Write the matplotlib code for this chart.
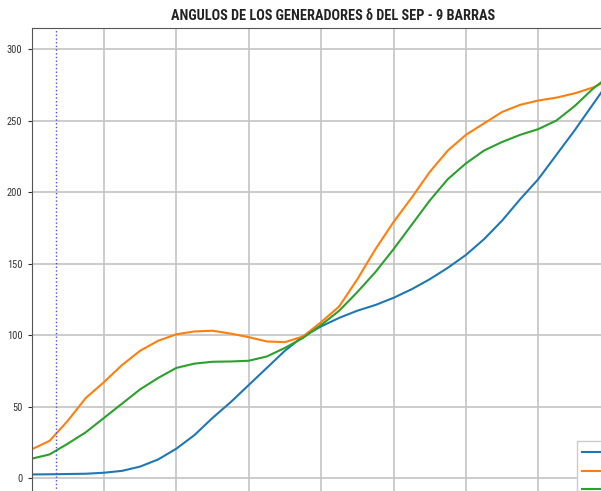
import matplotlib
matplotlib.use("Agg")
import matplotlib.pyplot as plt
from matplotlib import font_manager as fm

# Data
t = [0.0, 0.25, 0.5, 0.75, 1.0, 1.25, 1.5, 1.75, 2.0, 2.25, 2.5, 2.75, 3.0, 3.25, 3.5, 3.75,
     4.0, 4.25, 4.5, 4.75, 5.0, 5.25, 5.5, 5.75, 6.0, 6.25, 6.5, 6.75, 7.0, 7.25, 7.5, 7.75, 8.0]
delta1 = [2.5, 2.6, 2.8, 3.0, 3.7, 5, 8, 13, 20.5, 30, 42, 53, 65, 77, 89, 99,
          106, 112, 117, 121, 126, 132, 139, 147, 156, 167, 180, 195, 209, 226, 243, 261, 279]
delta2 = [20, 26, 40, 56, 67, 79, 89, 96, 100.5, 102.5, 103, 101, 98.5, 95.5, 95, 99,
          109, 120, 139, 160, 179, 196, 214, 229, 240, 248, 256, 261, 264, 266, 269, 273, 279]
delta3 = [13.5, 16.5, 24, 32, 42, 52, 62, 70, 77, 80, 81.3, 81.5, 82, 85, 91, 98,
          107, 117, 130, 144, 160, 177, 194, 209, 220, 229, 235, 240, 244, 250, 260, 272, 282]
labels = ["δ1", "δ2", "δ3"]
fault_time = 0.34
title = "ANGULOS DE LOS GENERADORES δ DEL SEP - 9 BARRAS"
yticks = [0, 50, 100, 150, 200, 250, 300]
xticks = [0, 1, 2, 3, 4, 5, 6, 7, 8]

# pick a condensed font if one is installed
available = {f.name for f in fm.fontManager.ttflist}
narrow_font = None
for cand in ["Liberation Sans Narrow", "DejaVu Sans Condensed", "Roboto Condensed",
             "Open Sans Condensed", "Noto Sans Condensed"]:
    if cand in available:
        narrow_font = cand
        break
if narrow_font is None:
    title_kw = dict(family=["DejaVu Sans"], fontsize=8.2)
    tick_kw = dict(family=["DejaVu Sans"], fontsize=7)
else:
    title_kw = dict(family=[narrow_font, "DejaVu Sans"], fontsize=10.3)
    tick_kw = dict(family=[narrow_font, "DejaVu Sans"], fontsize=7.5)

W, H = 601, 491
fig = plt.figure(figsize=(W / 100, H / 100), dpi=100)
# axes extends beyond the right and bottom edges (cropped chart)
left = 31.5 / W
top = 1 - 28 / H
width = 8 * 72.4 / W
ymin, ymax = -15, 314.7
height = (ymax - ymin) * 1.43 / H
ax = fig.add_axes([left, top - height, width, height])

colors = ["#1f77b4", "#ff7f0e", "#2ca02c"]
for ys, lab, c in zip([delta1, delta2, delta3], labels, colors):
    ax.plot(t, ys, color=c, lw=1.5, label=lab)

ax.axvline(fault_time, color="#5050e0", ls=":", lw=1.0)

ax.set_xlim(0, 8)
ax.set_ylim(ymin, ymax)
ax.set_xticks(xticks)
ax.set_yticks(yticks)
ax.grid(True, color="#c4c4c4", lw=1.2)
ax.tick_params(axis="both", length=3, colors="#333333")
for lbl in ax.get_yticklabels() + ax.get_xticklabels():
    lbl.set_family(tick_kw["family"])
    lbl.set_fontsize(tick_kw["fontsize"])
for s in ax.spines.values():
    s.set_color("#555555")

fig.text(333 / W, 1 - 16 / H, title, ha="center", va="center",
         fontweight="bold", color="#222222", **title_kw)

fig.legend(loc="upper left", bbox_to_anchor=(571 / W, 1 - 435 / H),
           bbox_transform=fig.transFigure, fontsize=9, handlelength=1.5,
           labelspacing=0.45, framealpha=1, edgecolor="#cccccc", fancybox=False)

fig.savefig("out.png", dpi=100)
